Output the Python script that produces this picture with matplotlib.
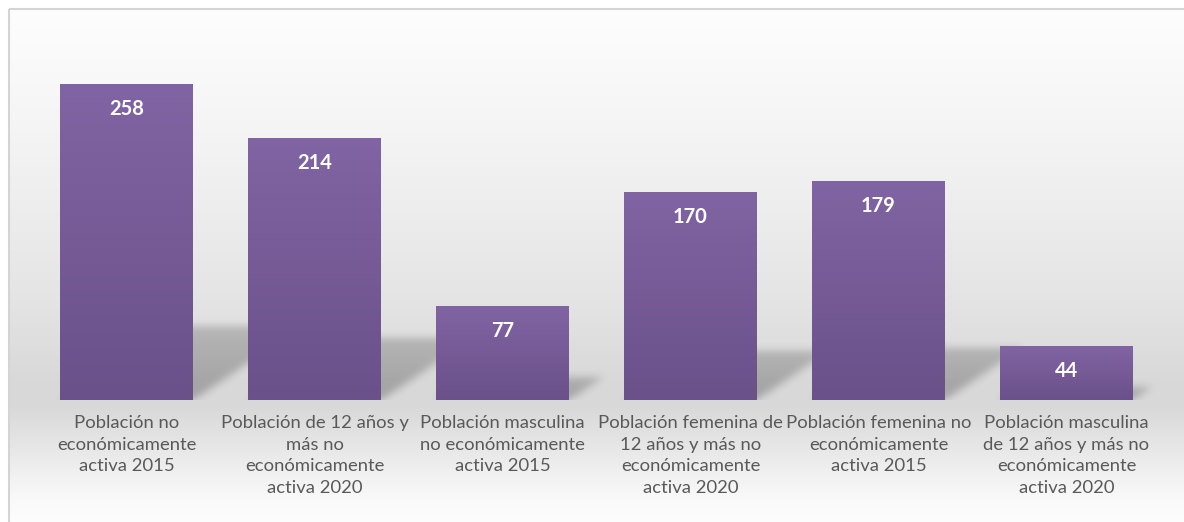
import numpy as np
import matplotlib
matplotlib.use('Agg')
import matplotlib.pyplot as plt
from matplotlib.patches import Rectangle

categories = [
    'Población no económicamente activa 2015',
    'Población de 12 años y más no económicamente activa 2020',
    'Población masculina no económicamente activa 2015',
    'Población femenina de 12 años y más no económicamente activa 2020',
    'Población femenina no económicamente activa 2015',
    'Población masculina de 12 años y más no económicamente activa 2020',
]
tick_labels = [
    'Población no\neconómicamente\nactiva 2015',
    'Población de 12 años y\nmás no\neconómicamente\nactiva 2020',
    'Población masculina\nno económicamente\nactiva 2015',
    'Población femenina de\n12 años y más no\neconómicamente\nactiva 2020',
    'Población femenina no\neconómicamente\nactiva 2015',
    'Población masculina\nde 12 años y más no\neconómicamente\nactiva 2020',
]
values = [258, 214, 77, 170, 179, 44]

W, H = 1184, 522
plt.rcParams['font.family'] = ['Lato', 'DejaVu Sans']

fig = plt.figure(figsize=(W / 100, H / 100), dpi=100)
fig.patch.set_facecolor('white')

# background gradient + frame, in pixel coords
bg = fig.add_axes([0, 0, 1, 1])
bg.set_xlim(0, W)
bg.set_ylim(H, 0)
bg.axis('off')
gy = np.arange(H)
grey = np.interp(gy, [8, 60, 200, 300, 385, 405, 450, 500, 522],
                 [253, 250, 238, 228, 216, 216, 232, 250, 253]) / 255.0
grad = np.repeat(grey[:, None], 2, axis=1)
grad_rgb = np.dstack([grad, grad, grad])
bg.imshow(grad_rgb[8:], extent=(8.5, W, H, 8.5), aspect='auto', zorder=0)
bg.add_patch(Rectangle((8.5, 8.5), W + 10, H + 10, fill=False,
                       edgecolor='#d4d4d4', linewidth=1.5, zorder=1))
bg.set_xlim(0, W)
bg.set_ylim(H, 0)

# main axes: x -0.5..5.5 -> px 32.5..1160.5, y 0..300 -> px 400..32.6
px_per_unit = 1.2248
ax = fig.add_axes([32.5 / W, (H - 400) / H, 1128 / W, 300 * px_per_unit / H])
ax.set_facecolor('none')
ax.set_xlim(-0.5, len(values) - 0.5)
ax.set_ylim(0, 300)
for s in ax.spines.values():
    s.set_visible(False)
ax.set_yticks([])

x = np.arange(len(values))
bw = 0.707

# soft perspective shadows
nx, ny = 1128, int(300 * px_per_unit)
xs = np.linspace(-0.5, len(values) - 0.5, nx)
ys = np.linspace(0, 300, ny)
X, Y = np.meshgrid(xs, ys)
k = 1.5 * px_per_unit / 188.0
shadow = np.zeros_like(X)
for xi, v in zip(x, values):
    sh = 0.235 * v
    m = (Y <= sh) & (X >= xi - bw / 2 + k * Y) & (X <= xi + bw / 2 + k * Y)
    shadow[m] = np.maximum(shadow[m], 0.25 * (1 - 0.25 * Y[m] / sh))
t = np.arange(-12, 13)
kern = np.exp(-t ** 2 / (2 * 4.0 ** 2))
kern /= kern.sum()
shadow = np.apply_along_axis(lambda r: np.convolve(r, kern, mode='same'), 1, shadow)
shadow = np.apply_along_axis(lambda c: np.convolve(c, kern, mode='same'), 0, shadow)
rgba = np.zeros((ny, nx, 4))
rgba[..., 3] = shadow
ax.imshow(rgba, origin='lower', extent=(-0.5, len(values) - 0.5, 0, 300),
          aspect='auto', zorder=1, interpolation='bilinear')

# bars with vertical gradient
top_c = np.array([129, 100, 163]) / 255.0
bot_c = np.array([106, 81, 138]) / 255.0
tt = np.linspace(0, 1, 256)[:, None]
bar_grad = (bot_c[None, :] * (1 - tt) + top_c[None, :] * tt)[:, None, :]
bars = ax.bar(x, values, width=bw, color='none', edgecolor='none', zorder=2)
for b in bars:
    x0, y0 = b.get_x(), b.get_y()
    im = ax.imshow(bar_grad, origin='lower', aspect='auto', zorder=2,
                   extent=(x0, x0 + b.get_width(), y0, y0 + b.get_height()))
    im.set_clip_path(b)

for xi, v in zip(x, values):
    ax.annotate(str(v), (xi, v), xytext=(0, -18), textcoords='offset points',
                ha='center', va='center', color='white', fontsize=14.5,
                fontweight='bold', zorder=3)

ax.set_xticks(x)
ax.set_xticklabels(tick_labels, color='#595959', fontsize=13.3, linespacing=1.42,
                   va='top')
ax.tick_params(axis='x', length=0, pad=11)
ax.set_xlim(-0.5, len(values) - 0.5)
ax.set_ylim(0, 300)

fig.savefig('out.png', dpi=100)
